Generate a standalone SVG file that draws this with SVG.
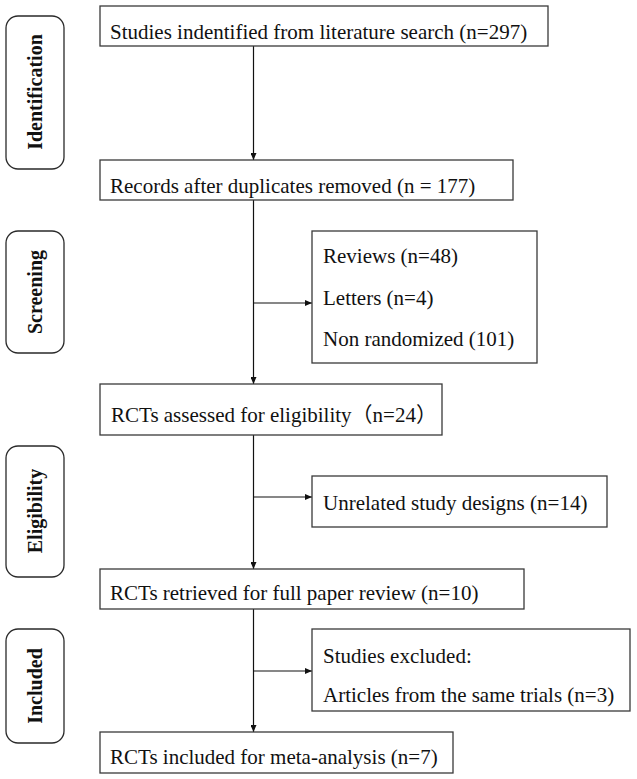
<svg xmlns="http://www.w3.org/2000/svg" width="637" height="779" viewBox="0 0 637 779">
<style>
.box{fill:#fff;stroke:#3a3a3a;stroke-width:1.3}
.side{fill:#fff;stroke:#2a2a2a;stroke-width:1.3}
.t{font-family:"Liberation Serif","Noto Sans CJK SC",serif;font-size:21px;fill:#111}
.s{font-family:"Liberation Serif",serif;font-size:20px;font-weight:bold;fill:#111;text-anchor:middle}
.c{stroke:#111;stroke-width:1.2;fill:none;marker-end:url(#ah)}
</style>
<defs>
<marker id="ah" markerUnits="userSpaceOnUse" markerWidth="7" markerHeight="6" refX="7" refY="3" orient="auto">
<path d="M0,0 L7,3 L0,6 z" fill="#111"/>
</marker>
</defs>
<rect width="637" height="779" fill="#fff"/>

<g id="stage-identification"><rect class="side" x="6" y="16" width="58" height="153" rx="12"/><text class="s" transform="translate(42,92) rotate(-90)">Identification</text></g>
<g id="stage-screening"><rect class="side" x="6" y="231" width="58" height="122" rx="12"/><text class="s" transform="translate(42,292) rotate(-90)">Screening</text></g>
<g id="stage-eligibility"><rect class="side" x="6" y="446" width="58" height="131" rx="12"/><text class="s" transform="translate(42,511) rotate(-90)">Eligibility</text></g>
<g id="stage-included"><rect class="side" x="6" y="629" width="58" height="114" rx="12"/><text class="s" transform="translate(42,686) rotate(-90)">Included</text></g>

<g id="connectors">
<line class="c" x1="253.5" y1="46" x2="253.5" y2="160"/>
<line class="c" x1="253.5" y1="200" x2="253.5" y2="384"/>
<line class="c" x1="253.5" y1="303" x2="312" y2="303"/>
<line class="c" x1="253.5" y1="435" x2="253.5" y2="569"/>
<line class="c" x1="253.5" y1="497" x2="312" y2="497"/>
<line class="c" x1="253.5" y1="609" x2="253.5" y2="732"/>
<line class="c" x1="253.5" y1="671" x2="312" y2="671"/>
</g>

<g id="n1"><rect class="box" x="100" y="6" width="448" height="40"/><text class="t" x="110" y="39">Studies indentified from literature search (n=297)</text></g>
<g id="n2"><rect class="box" x="100" y="160" width="413" height="40"/><text class="t" x="110" y="193">Records after duplicates removed (n = 177)</text></g>
<g id="n3"><rect class="box" x="312" y="231" width="225" height="132"/><text class="t" x="323" y="263">Reviews (n=48)</text><text class="t" x="323" y="305">Letters (n=4)</text><text class="t" x="323" y="346">Non randomized (101)</text></g>
<g id="n4"><rect class="box" x="100" y="384" width="342" height="51"/><text class="t" x="111" y="422">RCTs assessed for eligibility（n=24）</text></g>
<g id="n5"><rect class="box" x="312" y="476" width="295" height="51"/><text class="t" x="323" y="510">Unrelated study designs (n=14)</text></g>
<g id="n6"><rect class="box" x="100" y="569" width="424" height="40"/><text class="t" x="110" y="600">RCTs retrieved for full paper review (n=10)</text></g>
<g id="n7"><rect class="box" x="312" y="629" width="318" height="82"/><text class="t" x="323" y="663">Studies excluded:</text><text class="t" x="323" y="702">Articles from the same trials (n=3)</text></g>
<g id="n8"><rect class="box" x="100" y="732" width="353" height="41"/><text class="t" x="110" y="764">RCTs included for meta-analysis (n=7)</text></g>
</svg>
